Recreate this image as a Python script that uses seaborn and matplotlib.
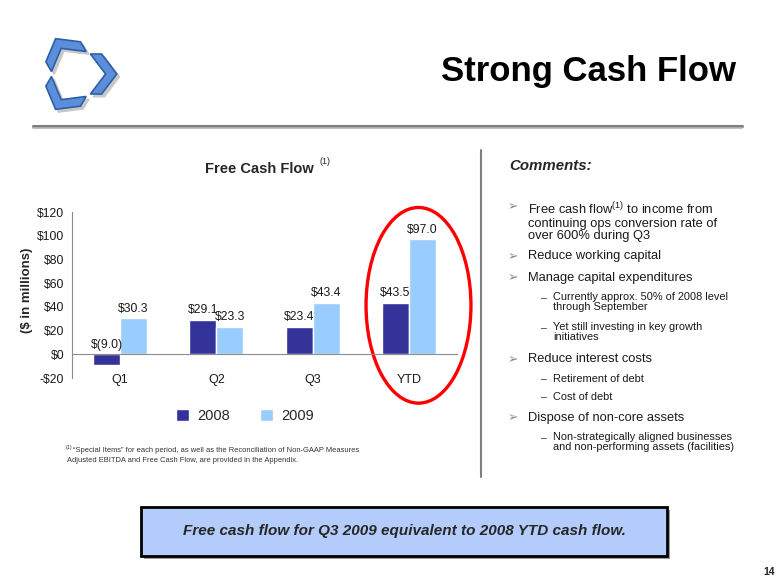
import numpy as np
import pandas as pd
import seaborn as sns
import matplotlib.pyplot as plt
from matplotlib.patches import Ellipse, Polygon, Rectangle
from matplotlib.lines import Line2D
from matplotlib.ticker import FuncFormatter, FixedLocator

# chart data
periods = ['Q1', 'Q2', 'Q3', 'YTD']
years = ['2008', '2009']
fcf_2008 = [-9.0, 29.1, 23.4, 43.5]
fcf_2009 = [30.3, 23.3, 43.4, 97.0]
y_ticks = [-20, 0, 20, 40, 60, 80, 100, 120]

comments = [
    (0, 'Free cash flow$^{\\rm (1)}$ to income from\ncontinuing ops conversion rate of\nover 600% during Q3'),
    (0, 'Reduce working capital'),
    (0, 'Manage capital expenditures'),
    (1, 'Currently approx. 50% of 2008 level\nthrough September'),
    (1, 'Yet still investing in key growth\ninitiatives'),
    (0, 'Reduce interest costs'),
    (1, 'Retirement of debt'),
    (1, 'Cost of debt'),
    (0, 'Dispose of non-core assets'),
    (1, 'Non-strategically aligned businesses\nand non-performing assets (facilities)'),
]
comment_y = [207, 257, 278, 298, 328, 360, 379, 397, 418, 438]

df = pd.DataFrame({
    'period': periods * 2,
    'year': [years[0]] * 4 + [years[1]] * 4,
    'fcf': fcf_2008 + fcf_2009,
})

sns.set_style("white")
plt.rcParams['font.family'] = ['Liberation Sans', 'DejaVu Sans']
plt.rcParams['mathtext.fontset'] = 'custom'
plt.rcParams['mathtext.rm'] = 'Liberation Sans'

W, H = 780, 585
fig = plt.figure(figsize=(7.8, 5.85), dpi=100)
fig.patch.set_facecolor('white')


def fx(px):
    return px / W


def fy(py):
    return 1 - py / H


# logo: three rotated chevrons
lax = fig.add_axes([fx(30), fy(118), fx(92), 88 / H])
lax.set_xlim(-1.1, 1.1)
lax.set_ylim(-1.1, 1.1)
lax.set_aspect('equal')
lax.axis('off')
arm = np.array([(0.36, 0.50), (0.64, 0.50), (1.02, 0.0), (0.64, -0.50),
                (0.36, -0.50), (0.74, 0.0)])
for ang in [0, 120, 240]:
    t = np.deg2rad(ang)
    rot = np.array([[np.cos(t), -np.sin(t)], [np.sin(t), np.cos(t)]])
    pts = arm @ rot.T
    lax.add_patch(Polygon(pts + [0.07, -0.07], closed=True, color='#c8c8c8'))
    lax.add_patch(Polygon(pts, closed=True, facecolor='#5b8fdb',
                          edgecolor='#2f5ea8', lw=1.2))

# header rule
fig.add_artist(Line2D([fx(33), fx(742)], [fy(125.5), fy(125.5)],
                      color='#7f7f7f', lw=2.2))
fig.add_artist(Line2D([fx(33), fx(742)], [fy(128.3), fy(128.3)],
                      color='#b5b5b5', lw=1.2))
fig.text(fx(736), fy(72), 'Strong Cash Flow', fontsize=25, fontweight='bold',
         ha='right', va='center', color='black')

# separator
fig.add_artist(Line2D([fx(481), fx(481)], [fy(150), fy(477)],
                      color='#808080', lw=1.5))

# chart
ax = fig.add_axes([fx(72), fy(378), (457 - 72) / W, (378 - 212) / H])
sns.barplot(data=df, x='period', y='fcf', hue='year',
            palette=['#333399', '#99ccff'], width=0.56, saturation=1,
            errorbar=None, ax=ax)
ax.set_ylim(-20, 120)
ax.set_xlim(-0.5, 3.5)
ax.set_yticks(y_ticks)
ax.yaxis.set_major_formatter(FuncFormatter(
    lambda v, p: f'-${abs(v):.0f}' if v < 0 else f'${v:.0f}'))
ax.set_xlabel('')
ax.set_ylabel('')
for s in ['top', 'right']:
    ax.spines[s].set_visible(False)
ax.spines['left'].set_color('#8c8c8c')
ax.spines['bottom'].set_color('#8c8c8c')
ax.spines['bottom'].set_position(('data', 0))
ax.tick_params(axis='y', length=4, color='#8c8c8c', labelsize=8.7,
               labelcolor='#1a1a1a', pad=1.5)
ax.tick_params(axis='x', which='major', length=0, labelsize=9,
               labelcolor='#1a1a1a', pad=14)
ax.xaxis.set_minor_locator(FixedLocator([0.5, 1.5, 2.5, 3.5]))
ax.tick_params(axis='x', which='minor', length=4, color='#8c8c8c')

for cont, vals in zip(ax.containers, [fcf_2008, fcf_2009]):
    for bar, v in zip(cont, vals):
        lab = f'$({abs(v):.1f})' if v < 0 else f'${v:.1f}'
        ax.annotate(lab, (bar.get_x() + bar.get_width() / 2, max(v, 0)),
                    xytext=(0, 2.5), textcoords='offset points',
                    ha='center', va='bottom', fontsize=8.7, color='#1a1a1a')

handles, labels = ax.get_legend_handles_labels()
ax.legend(handles, labels, loc='center', bbox_to_anchor=(fx(245), fy(416)),
          bbox_transform=fig.transFigure, ncol=2, frameon=False,
          fontsize=10.5, handlelength=0.9, handleheight=0.9,
          handletextpad=0.55, columnspacing=2.1)

ax.add_patch(Ellipse((3.1, 41.3), 1.09, 165, fill=False, edgecolor='#ff0000',
                     lw=2.4, clip_on=False))

fig.text(fx(259), fy(169), 'Free Cash Flow', fontsize=10.5, fontweight='bold',
         ha='center', va='center')
fig.text(fx(320), fy(162), '(1)', fontsize=6.5, ha='left', va='center')
fig.text(fx(27), fy(290), '($ in millions)', fontsize=9.5, fontweight='bold',
         rotation=90, ha='center', va='center')

# footnote
fig.text(fx(66), fy(448), '(1)', fontsize=3.8, ha='left', va='center',
         color='#333333')
fig.text(fx(73), fy(450), '\u201cSpecial Items\u201d for each period, as well as '
         'the Reconciliation of Non-GAAP Measures', fontsize=5.4, ha='left',
         va='center', color='#333333')
fig.text(fx(67), fy(461), 'Adjusted EBITDA and Free Cash Flow, are provided '
         'in the Appendix.', fontsize=5.4, ha='left', va='center',
         color='#333333')

# comments
fig.text(fx(509), fy(166), 'Comments:', fontsize=10.8, fontweight='bold',
         fontstyle='italic', ha='left', va='center')
for (lvl, txt), yy in zip(comments, comment_y):
    if lvl == 0:
        fig.text(fx(508), fy(yy), '\u27a2', fontsize=9, color='#8a8a8a',
                 ha='left', va='center', family=['DejaVu Sans'])
        fig.text(fx(528), fy(yy - 6.5), txt, fontsize=9.3, color='#1a1a1a',
                 ha='left', va='top', linespacing=1.05)
    else:
        fig.text(fx(541), fy(yy), '\u2013', fontsize=7.7, color='#333333',
                 ha='left', va='center')
        fig.text(fx(553), fy(yy - 5.5), txt, fontsize=7.9, color='#1a1a1a',
                 ha='left', va='top', linespacing=1.0)

# bottom box
fig.add_artist(Rectangle((fx(144), fy(559)), fx(667 - 141), (556 - 507) / H,
                         facecolor='#9a9a9a', edgecolor='none'))
fig.add_artist(Rectangle((fx(141), fy(556)), fx(667 - 141), (556 - 507) / H,
                         facecolor='#b3ccfb', edgecolor='black', lw=2))
fig.text(fx(404), fy(531), 'Free cash flow for Q3 2009 equivalent to 2008 YTD '
         'cash flow.', fontsize=11, fontweight='bold', fontstyle='italic',
         ha='center', va='center')

fig.text(fx(775), fy(572), '14', fontsize=7.5, fontweight='bold',
         ha='right', va='center', color='#222222')

fig.savefig('out.png', dpi=100)
